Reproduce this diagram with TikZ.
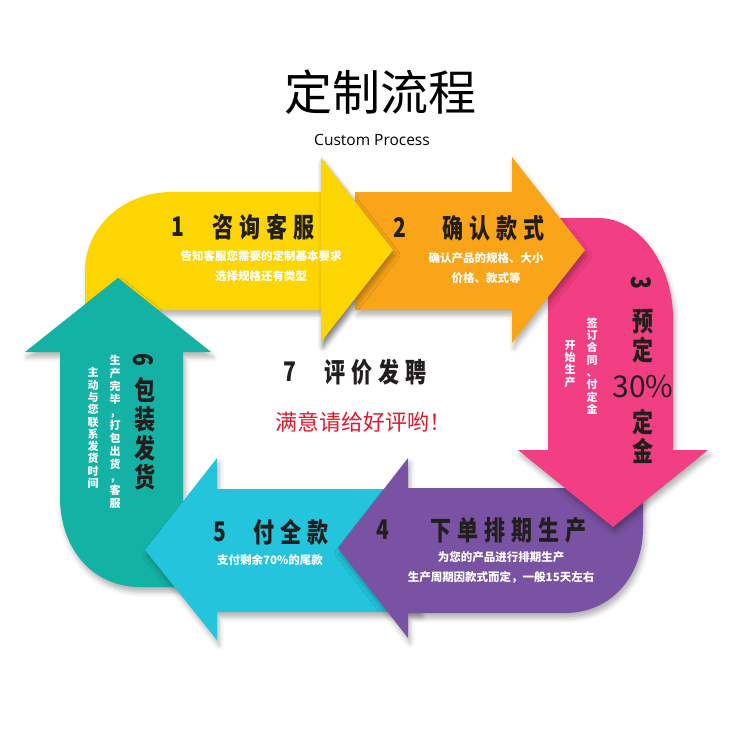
\documentclass[tikz,border=0pt]{standalone}
\usepackage{fontspec}
\newfontfamily\cjk{Noto Sans CJK SC}
\newfontfamily\cjkn{Noto Sans CJK SC}[FakeStretch=0.78]
\newfontfamily\cjkt{Noto Sans CJK SC}[FakeStretch=0.78,LetterSpace=22]
\setsansfont{Open Sans}
\usetikzlibrary{shadows.blur}
\definecolor{cyellow}{RGB}{253,213,0}
\definecolor{corange}{RGB}{250,165,25}
\definecolor{cpink}{RGB}{242,62,130}
\definecolor{cpurple}{RGB}{122,82,163}
\definecolor{ccyan}{RGB}{35,196,220}
\definecolor{cteal}{RGB}{20,178,165}
\definecolor{ink}{RGB}{35,30,30}
\definecolor{cred}{RGB}{225,25,45}
\tikzset{
  arrowshape/.style={blur shadow={shadow xshift=2pt,shadow yshift=-5pt,shadow blur radius=5pt,shadow opacity=30}},
  stepnum/.style={font=\cjkn\bfseries\fontsize{27}{27}\selectfont,text=ink,inner sep=0pt},
  steptitle/.style={font=\cjkt\bfseries\fontsize{27}{27}\selectfont,text=ink,inner sep=0pt},
  stepstack/.style={font=\cjkn\bfseries\fontsize{27}{29}\selectfont,text=ink,align=center,inner sep=0pt},
  stepnote/.style={font=\cjk\bfseries\fontsize{11.5}{20}\selectfont,text=white,align=center,inner sep=0pt},
  colnote/.style={font=\cjk\bfseries\fontsize{11}{#1}\selectfont,text=white,align=center,inner sep=0pt},
  colnote/.default=12.3
}
\begin{document}
\begin{tikzpicture}[x=1pt,y=-1pt]
    \useasboundingbox (0,0) rectangle (750,750);
    \node[font=\cjk\fontsize{48}{48}\selectfont,text=black] (title) at (380,92) {定制流程};
    \node[font=\sffamily\fontsize{15.5}{15.5}\selectfont,text=black] (subtitle) at (372,140) {Custom Process};

    % arrows, drawn round the cycle
    \fill[cyellow,arrowshape] (85,310) -- (85,272) .. controls (85,225) and (125,192) .. (172,192) -- (321,192) -- (321,158) -- (393,250) -- (321,342) -- (321,310) -- cycle;
    \fill[cteal,arrowshape] (118,278) -- (25,352) -- (60,352) -- (60,497) .. controls (60,548) and (92,587) .. (140,587) -- (183,587) -- (183,352) -- (211,352) -- cycle;
    \fill[ccyan,arrowshape] (217,458) -- (145,550) -- (217,640) -- (217,612) -- (420,612) -- (420,489) -- (217,489) -- cycle;
    \fill[cpurple,arrowshape] (408,458) -- (338,548) -- (408,638) -- (408,613) -- (565,613) .. controls (612,613) and (643,575) .. (643,528) -- (643,488) -- (408,488) -- cycle;
    \fill[cpink,arrowshape] (548,450) -- (548,218) -- (598,218) .. controls (642,218) and (673,268) .. (673,318) -- (673,450) -- (708,450) -- (613,527) -- (518,450) -- cycle;
    \fill[corange,arrowshape] (355,192) -- (512,192) -- (512,157) -- (585,250) -- (512,343) -- (512,310) -- (355,310) -- cycle;
    \fill[cyellow,arrowshape] (321,158) -- (393,250) -- (321,342) -- cycle;

    % 1
    \node[stepnum] (n1) at (178,227) {1};
    \node[steptitle] (t1) at (264,227) {咨询客服};
    \node[stepnote] (d1) at (261,266) {告知客服您需要的定制基本要求\\选择规格还有类型};
    % 2
    \node[stepnum] (n2) at (400,228) {2};
    \node[steptitle] (t2) at (494,228) {确认款式};
    \node[stepnote] (d2) at (486,268) {确认产品的规格、大小\\价格、款式等};
    % 3
    \node[stepnum,rotate=-90] (n3) at (641,283) {3};
    \node[stepstack] (t3a) at (643,336) {预\\定};
    \node[font=\cjk\fontsize{30}{30}\selectfont,text=ink,inner sep=0pt] (t3p) at (643,386) {30\%};
    \node[stepstack] (t3b) at (643,436) {定\\金};
    \node[colnote] (d3a) at (592,366) {签\\订\\合\\同\\、\\付\\定\\金};
    \node[colnote] (d3b) at (570,364) {开\\始\\生\\产};
    % 4
    \node[stepnum] (n4) at (383,530) {4};
    \node[steptitle] (t4) at (509,530) {下单排期生产};
    \node[stepnote] (d4) at (501,567) {为您的产品进行排期生产\\生产周期因款式而定，一般15天左右};
    % 5
    \node[stepnum] (n5) at (220,532) {5};
    \node[steptitle] (t5) at (291,532) {付全款};
    \node[stepnote] (d5) at (270,560) {支付剩余70\%的尾款};
    % 6
    \node[stepnum,rotate=-90] (n6) at (143,360) {6};
    \node[stepstack] (t6) at (145,434) {包\\装\\发\\货};
    \node[colnote=13] (d6a) at (115,432) {生\\产\\完\\毕\\，\\打\\包\\出\\货\\，\\客\\服};
    \node[colnote] (d6b) at (93,428) {主\\动\\与\\您\\联\\系\\发\\货\\时\\间};
    % 7
    \node[stepnum] (n7) at (290,372) {7};
    \node[steptitle] (t7) at (376,372) {评价发聘};
    \node[font=\cjk\fontsize{22}{22}\selectfont,text=cred,inner sep=0pt] (d7) at (363,422) {满意请给好评哟！};
\end{tikzpicture}
\end{document}
